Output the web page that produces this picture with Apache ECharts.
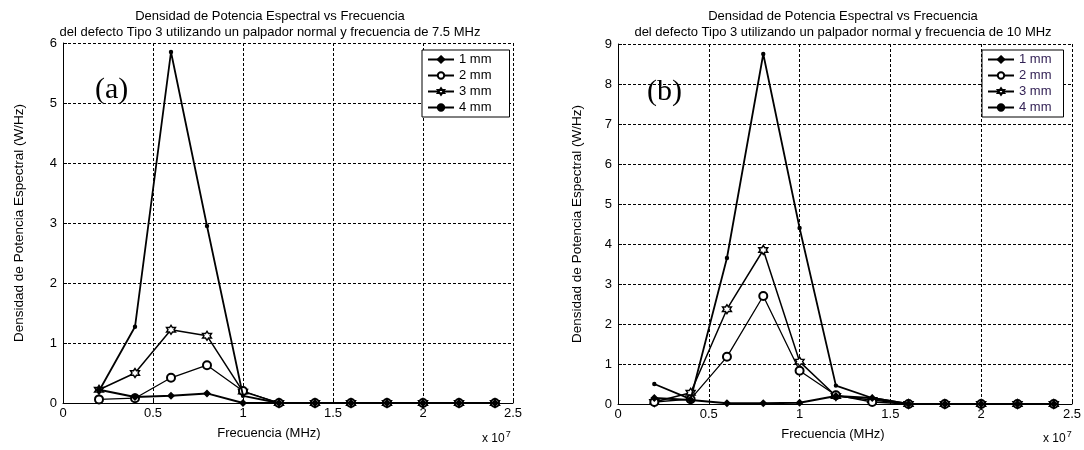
<!DOCTYPE html>
<html>
<head>
<meta charset="utf-8">
<script src="https://cdn.jsdelivr.net/npm/echarts@6/dist/echarts.min.js"></script>
<style>html,body{margin:0;padding:0;background:#fff}#c{width:1084px;height:450px}</style>
</head>
<body>
<div id="c"></div>
<script>
// Frequencies (Hz)
const freq = [2e6, 4e6, 6e6, 8e6, 1e7, 1.2e7, 1.4e7, 1.6e7, 1.8e7, 2e7, 2.2e7, 2.4e7];
const seriesNames = ['1 mm', '2 mm', '3 mm', '4 mm'];
// (a) 7.5 MHz
const a1 = [0.22, 0.10, 0.12, 0.16, 0.00, 0, 0, 0, 0, 0, 0, 0];
const a2 = [0.06, 0.08, 0.42, 0.63, 0.20, 0, 0, 0, 0, 0, 0, 0];
const a3 = [0.22, 0.50, 1.22, 1.12, 0.19, 0, 0, 0, 0, 0, 0, 0];
const a4 = [0.20, 1.27, 5.85, 2.95, 0.12, 0, 0, 0, 0, 0, 0, 0];
// (b) 10 MHz
const b1 = [0.15, 0.10, 0.02, 0.02, 0.03, 0.20, 0.15, 0, 0, 0, 0, 0];
const b2 = [0.05, 0.12, 1.18, 2.70, 0.83, 0.22, 0.05, 0, 0, 0, 0, 0];
const b3 = [0.05, 0.28, 2.37, 3.85, 1.06, 0.20, 0.10, 0, 0, 0, 0, 0];
const b4 = [0.50, 0.12, 3.65, 8.75, 4.40, 0.46, 0.15, 0, 0, 0, 0, 0];

const titleA = ['Densidad de Potencia Espectral vs Frecuencia', 'del defecto Tipo 3 utilizando un palpador normal y frecuencia de 7.5 MHz'];
const titleB = ['Densidad de Potencia Espectral vs Frecuencia', 'del defecto Tipo 3 utilizando un palpador normal y frecuencia de 10 MHz'];

const FONT = 'Liberation Sans, Arial, sans-serif';
const hexagram = 'path://M0,-10L-2.885,-5L-8.66,-5L-5.77,0L-8.66,5L-2.885,5L0,10L2.885,5L8.66,5L5.77,0L8.66,-5L2.885,-5Z';

const styles = [
  {symbol: 'diamond', symbolSize: 6, lw: 2, fill: '#000', z: 4},
  {symbol: 'emptyCircle', symbolSize: 8, lw: 1.3, fill: '#000', z: 3},
  {symbol: hexagram, symbolSize: 9, lw: 1.5, fill: '#fff', z: 2},
  {symbol: 'circle', symbolSize: 3, lw: 1.8, fill: '#000', z: 5}
];

function mkSeries(vals, idx) {
  return vals.map((v, i) => ({
    name: seriesNames[i],
    type: 'line',
    xAxisIndex: idx, yAxisIndex: idx,
    z: styles[i].z,
    data: freq.map((f, k) => [f, v[k]]),
    symbol: styles[i].symbol,
    symbolSize: styles[i].symbolSize,
    showAllSymbol: true,
    lineStyle: {color: '#000', width: styles[i].lw},
    itemStyle: {color: styles[i].fill, borderColor: '#000', borderWidth: 1.4},
    emphasis: {disabled: true},
    animation: false
  }));
}

const dash = {color: '#000', width: 1, type: [3, 2]};
function xAx(idx) {
  return {
    type: 'value', gridIndex: idx, min: 0, max: 2.5e7, interval: 5e6,
    name: 'Frecuencia (MHz)', nameLocation: 'middle', nameGap: 24,
    nameTextStyle: {color: '#000', fontFamily: FONT, fontSize: 13, padding: [0, idx === 0 ? 38 : 24, 0, 0]},
    axisLine: {show: true, lineStyle: {color: '#000', width: 1}},
    axisTick: {show: true, inside: true, length: 4, lineStyle: {color: '#000'}},
    axisLabel: {color: '#000', fontFamily: FONT, fontSize: 13, margin: 4, formatter: v => String(v / 1e7)},
    splitLine: {show: true, lineStyle: dash}
  };
}
function yAx(idx, max, gap) {
  return {
    type: 'value', gridIndex: idx, min: 0, max: max, interval: 1,
    name: 'Densidad de Potencia Espectral (W/Hz)', nameLocation: 'middle', nameGap: gap,
    nameTextStyle: {color: '#000', fontFamily: FONT, fontSize: 13.5},
    axisLine: {show: true, lineStyle: {color: '#000', width: 1}},
    axisTick: {show: true, inside: true, length: 4, lineStyle: {color: '#000'}},
    axisLabel: {color: '#000', fontFamily: FONT, fontSize: 13, margin: 6},
    splitLine: {show: true, lineStyle: dash}
  };
}
function legend(left, top, textColor, padR) {
  return {
    data: seriesNames, orient: 'vertical', left: left, top: top,
    padding: [3, padR, 3, 5], itemGap: 3, itemWidth: 26, itemHeight: 8,
    backgroundColor: '#fff', borderColor: '#000', borderWidth: 1, borderRadius: 0,
    textStyle: {color: textColor, fontFamily: FONT, fontSize: 13, lineHeight: 13},
    selectedMode: false
  };
}
function titleText(lines, cx) {
  return {
    type: 'text', x: cx, y: 8, z: 10,
    style: {text: lines.join('\n'), textAlign: 'center', fill: '#000', font: '13px ' + FONT, lineHeight: 16}
  };
}

const chart = echarts.init(document.getElementById('c'), null, {renderer: 'canvas'});
chart.setOption({
  backgroundColor: '#fff',
  animation: false,
  grid: [
    {left: 63, right: 571, top: 43, bottom: 47},
    {left: 618, right: 9, top: 44, bottom: 46}
  ],
  xAxis: [xAx(0), xAx(1)],
  yAxis: [yAx(0, 6, 37), yAx(1, 9, 34)],
  legend: [legend(422, 50, '#000', 18), legend(982, 50, '#332255', 12)],
  series: mkSeries([a1, a2, a3, a4], 0).concat(mkSeries([b1, b2, b3, b4], 1)),
  graphic: [
    titleText(titleA, 270),
    titleText(titleB, 843),
    {type: 'text', x: 95, y: 75, style: {text: '(a)', font: '30px Liberation Serif, Times New Roman, serif', fill: '#000'}},
    {type: 'text', x: 647, y: 77, style: {text: '(b)', font: '30px Liberation Serif, Times New Roman, serif', fill: '#000'}},
    {type: 'text', x: 482, y: 430, style: {text: 'x 10{s|7}', font: '12px ' + FONT, fill: '#000', rich: {s: {fontSize: 9, verticalAlign: 'top', padding: [0, 0, 8, 1], fontFamily: FONT}}}},
    {type: 'text', x: 1043, y: 430, style: {text: 'x 10{s|7}', font: '12px ' + FONT, fill: '#000', rich: {s: {fontSize: 9, verticalAlign: 'top', padding: [0, 0, 8, 1], fontFamily: FONT}}}}
  ]
});
</script>
</body>
</html>
